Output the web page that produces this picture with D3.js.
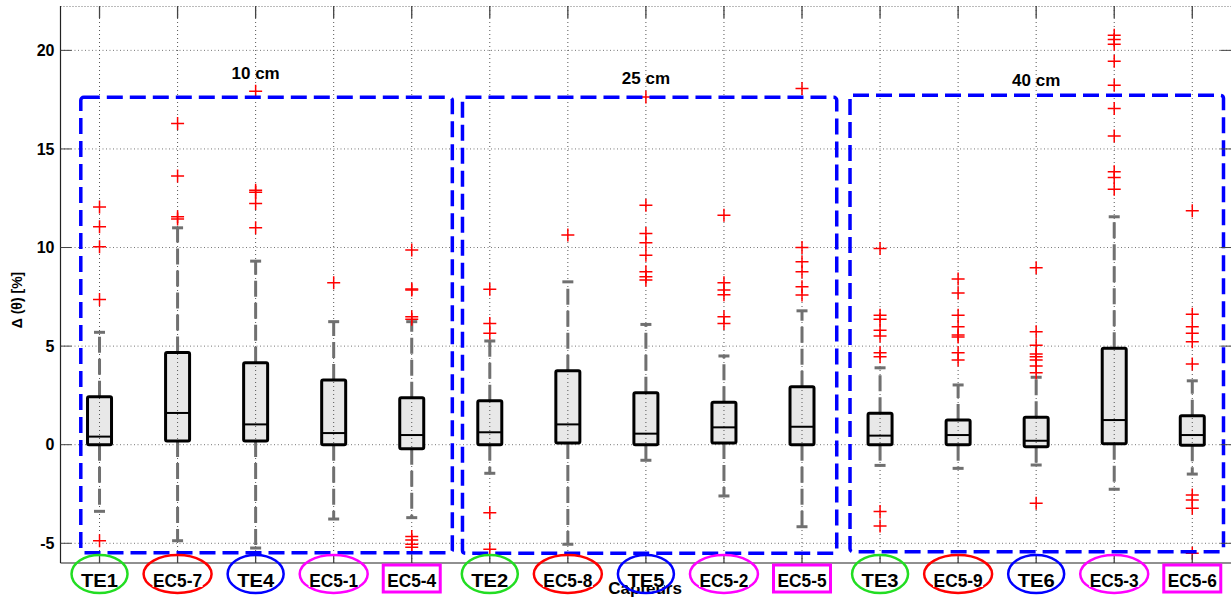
<!DOCTYPE html>
<html><head><meta charset="utf-8">
<script src="https://cdn.jsdelivr.net/npm/d3@7"></script>
<style>
html,body{margin:0;padding:0;background:#fff;}
svg{display:block;font-family:"Liberation Sans",Arial,sans-serif;}
</style></head>
<body>
<svg id="chart" width="1231" height="598"></svg>
<script>
// ---- data ----
const sensors = ["TE1","EC5-7","TE4","EC5-1","EC5-4","TE2","EC5-8","TE5","EC5-2","EC5-5","TE3","EC5-9","TE6","EC5-3","EC5-6"];
const labelShape = ["ellipse","ellipse","ellipse","ellipse","rect","ellipse","ellipse","ellipse","ellipse","rect","ellipse","ellipse","ellipse","ellipse","rect"];
const labelColor = ["#22dd22","#ff0000","#0000ff","#ff00ff","#ff00ff","#22dd22","#ff0000","#0000ff","#ff00ff","#ff00ff","#22dd22","#ff0000","#0000ff","#ff00ff","#ff00ff"];
const q1      = [0.00, 0.19, 0.19, 0.00, -0.20, 0.00, 0.09, 0.00, 0.09, 0.00, 0.00, 0.00, -0.10, 0.05, -0.03];
const medians = [0.41, 1.61, 1.03, 0.59, 0.49, 0.63, 1.03, 0.56, 0.88, 0.91, 0.46, 0.49, 0.20, 1.25, 0.49];
const q3      = [2.43, 4.68, 4.16, 3.28, 2.38, 2.23, 3.75, 2.64, 2.15, 2.94, 1.59, 1.25, 1.39, 4.89, 1.47];
const whiskLo = [-3.38, -4.87, -5.24, -3.77, -3.70, -1.45, -5.05, -0.79, -2.60, -4.16, -1.05, -1.20, -1.03, -2.26, -1.49];
const whiskHi = [5.70, 11.00, 9.31, 6.24, 6.24, 5.26, 8.26, 6.10, 4.50, 6.79, 3.90, 3.03, 3.42, 11.56, 3.24];
const outliers = [
  [12.06, 11.05, 10.04, 7.37, -4.87],
  [16.29, 13.63, 11.56, 11.45],
  [17.93, 12.9, 12.8, 12.23, 11.0],
  [8.21],
  [9.87, 7.9, 7.85, 6.49, 6.36, -4.66, -4.83, -5.05, -5.2],
  [7.88, 6.15, 5.65, -3.45, -5.3],
  [10.63],
  [17.64, 12.15, 10.71, 10.24, 9.61, 8.77, 8.52, 8.35],
  [11.64, 8.21, 7.84, 7.6, 6.49, 6.15],
  [18.06, 10.0, 9.28, 8.77, 8.01, 7.59],
  [9.95, 6.57, 6.36, 5.81, 5.51, 4.66, 4.46, -3.39, -4.12],
  [8.4, 7.7, 6.57, 5.98, 5.56, 5.46, 4.66, 4.29],
  [8.97, 5.73, 5.05, 4.6, 4.46, 4.29, 3.99, 3.65, -2.97],
  [20.77, 20.55, 20.31, 19.45, 18.23, 17.05, 15.66, 13.84, 13.55, 12.96],
  [11.86, 6.62, 5.98, 5.65, 5.22, 4.09, -2.55, -2.80, -3.22, -5.5]
];
const yTicks = [-5, 0, 5, 10, 15, 20];
const groupNames = ["10 cm", "25 cm", "40 cm"];
const groupCenter = [3, 8, 13];
const groupX0 = [0.76, 5.65, 10.615];
const groupX1 = [5.52, 10.445, 15.40];
const groupTop = [17.62, 17.62, 17.72];
const groupBottom = [-5.48, -5.51, -5.43];
const groupTitleY = [18.55, 18.3, 18.2];
const yLabel = "\u0394 (\u03b8) [%]";
const xLabel = "Capteurs";

// ---- scales ----
const svg = d3.select("#chart");
const L = 60.5, R = 1231.3, T = 6, B = 563;
const x = d3.scaleLinear().domain([0.5, 15.5]).range([L, R]);
const y = d3.scaleLinear().domain([-6, 22.25]).range([B, T]);
const idx = d3.range(sensors.length);

// grid
const grid = svg.append("g");
grid.selectAll("line.h").data(yTicks).join("line")
  .attr("x1", L).attr("x2", R).attr("y1", d => y(d)).attr("y2", d => y(d))
  .attr("stroke", "#777").attr("stroke-width", 1).attr("stroke-dasharray", "1,2.5");
// top border dotted
grid.append("line").attr("x1", L).attr("x2", R).attr("y1", T + 0.5).attr("y2", T + 0.5)
  .attr("stroke", "#777").attr("stroke-dasharray", "1,2");

// box fills
const boxW = 24;
svg.append("g").selectAll("rect").data(idx).join("rect")
  .attr("x", i => x(i + 1) - boxW / 2).attr("width", boxW)
  .attr("y", i => y(q3[i])).attr("height", i => y(q1[i]) - y(q3[i]))
  .attr("fill", "#e8e8e8");

// vertical grid
grid.clone ? null : null;
svg.append("g").selectAll("line").data(idx).join("line")
  .attr("x1", i => x(i + 1)).attr("x2", i => x(i + 1)).attr("y1", T).attr("y2", B)
  .attr("stroke", "#555").attr("stroke-width", 1).attr("stroke-dasharray", "1,3");

// whiskers
const wg = svg.append("g").attr("stroke", "#707070").attr("stroke-width", 3);
wg.selectAll("line.up").data(idx).join("line")
  .attr("x1", i => x(i + 1)).attr("x2", i => x(i + 1))
  .attr("y1", i => y(q3[i])).attr("y2", i => y(whiskHi[i]))
  .attr("stroke-dasharray", "16,6");
wg.selectAll("line.lo").data(idx).join("line").attr("class", "lo")
  .attr("x1", i => x(i + 1)).attr("x2", i => x(i + 1))
  .attr("y1", i => y(q1[i])).attr("y2", i => y(whiskLo[i]))
  .attr("stroke-dasharray", "16,6");
const capW = 11;
wg.selectAll("line.ch").data(idx).join("line").attr("class", "ch")
  .attr("x1", i => x(i + 1) - capW / 2).attr("x2", i => x(i + 1) + capW / 2)
  .attr("y1", i => y(whiskHi[i])).attr("y2", i => y(whiskHi[i]));
wg.selectAll("line.cl").data(idx).join("line").attr("class", "cl")
  .attr("x1", i => x(i + 1) - capW / 2).attr("x2", i => x(i + 1) + capW / 2)
  .attr("y1", i => y(whiskLo[i])).attr("y2", i => y(whiskLo[i]));

// box outlines + medians
svg.append("g").selectAll("rect").data(idx).join("rect")
  .attr("x", i => x(i + 1) - boxW / 2).attr("width", boxW)
  .attr("y", i => y(q3[i])).attr("height", i => y(q1[i]) - y(q3[i]))
  .attr("fill", "none").attr("stroke", "#000").attr("stroke-width", 3).attr("rx", 1.5);
svg.append("g").selectAll("line").data(idx).join("line")
  .attr("x1", i => x(i + 1) - boxW / 2).attr("x2", i => x(i + 1) + boxW / 2)
  .attr("y1", i => y(medians[i])).attr("y2", i => y(medians[i]))
  .attr("stroke", "#000").attr("stroke-width", 2);

// outliers
const pts = [];
outliers.forEach((arr, i) => arr.forEach(v => pts.push({i, v})));
const og = svg.append("g").attr("stroke", "#ff0000").attr("stroke-width", 1.5);
og.selectAll("path").data(pts).join("path")
  .attr("d", d => { const cx = x(d.i + 1), cy = y(d.v); return `M${cx - 6.5},${cy}H${cx + 6.5}M${cx},${cy - 6.5}V${cy + 6.5}`; });

// group rectangles
const gg = svg.append("g");
gg.selectAll("rect").data(groupNames).join("rect")
  .attr("x", (d, k) => x(groupX0[k])).attr("width", (d, k) => x(groupX1[k]) - x(groupX0[k]))
  .attr("y", (d, k) => y(groupTop[k])).attr("height", (d, k) => y(groupBottom[k]) - y(groupTop[k]))
  .attr("rx", 3).attr("fill", "none").attr("stroke", "#0000ff").attr("stroke-width", 3.5)
  .attr("stroke-dasharray", "16,7");
gg.selectAll("text").data(groupNames).join("text")
  .attr("x", (d, k) => x(groupCenter[k])).attr("y", (d, k) => y(groupTitleY[k]))
  .attr("text-anchor", "middle").attr("font-weight", "bold").attr("font-size", 17)
  .attr("fill", "#000").text(d => d);

// axes lines and ticks
const ax = svg.append("g");
ax.append("line").attr("x1", L).attr("x2", L).attr("y1", T).attr("y2", B).attr("stroke", "#222").attr("stroke-width", 1.2);
ax.append("line").attr("x1", L).attr("x2", R).attr("y1", B).attr("y2", B).attr("stroke", "#222").attr("stroke-width", 1.2);
ax.selectAll("line.yl").data(yTicks).join("line").attr("class", "yl")
  .attr("x1", L).attr("x2", L + 11).attr("y1", d => y(d)).attr("y2", d => y(d)).attr("stroke", "#444");
ax.selectAll("line.yr").data(yTicks).join("line").attr("class", "yr")
  .attr("x1", R - 11).attr("x2", R).attr("y1", d => y(d)).attr("y2", d => y(d)).attr("stroke", "#444");
ax.selectAll("line.xt").data(idx).join("line").attr("class", "xt")
  .attr("x1", i => x(i + 1)).attr("x2", i => x(i + 1)).attr("y1", T).attr("y2", T + 12).attr("stroke", "#444").attr("stroke-width", 1.3);
ax.selectAll("line.xb").data(idx).join("line").attr("class", "xb")
  .attr("x1", i => x(i + 1)).attr("x2", i => x(i + 1)).attr("y1", B - 8).attr("y2", B).attr("stroke", "#444").attr("stroke-width", 1.3);
ax.selectAll("text.yt").data(yTicks).join("text").attr("class", "yt")
  .attr("x", L - 6).attr("y", d => y(d)).attr("dy", "0.36em")
  .attr("text-anchor", "end").attr("font-weight", "bold").attr("font-size", 16).text(d => d);

// y label
svg.append("text").attr("transform", `translate(22,${300}) rotate(-90)`)
  .attr("text-anchor", "middle").attr("font-weight", "bold").attr("font-size", 14).text(yLabel);

// x label
svg.append("text").attr("x", 645).attr("y", 594).attr("text-anchor", "middle")
  .attr("font-weight", "bold").attr("font-size", 17).text(xLabel);

// sensor labels
const lg = svg.append("g");
const lab = lg.selectAll("g").data(idx).join("g").attr("transform", i => `translate(${x(i + 1)},574)`);
lab.each(function(i) {
  const g = d3.select(this);
  const isEC = sensors[i].startsWith("EC");
  if (labelShape[i] === "ellipse") {
    g.append("ellipse").attr("rx", isEC ? 34 : 28).attr("ry", 19)
      .attr("fill", "none").attr("stroke", labelColor[i]).attr("stroke-width", 2.5);
  } else {
    g.append("rect").attr("x", -28.5).attr("y", -9).attr("width", 57).attr("height", 27)
      .attr("fill", "#fff").attr("stroke", labelColor[i]).attr("stroke-width", 3);
  }
  const tw = isEC ? 50 : 36;
  g.append("rect").attr("x", -tw / 2).attr("y", -4).attr("width", tw).attr("height", 17).attr("fill", "#fff");
  g.append("text").attr("y", 12.5).attr("text-anchor", "middle").attr("font-weight", "bold")
    .attr("font-size", 19).attr("textLength", isEC ? 49 : 37).attr("lengthAdjust", "spacingAndGlyphs")
    .text(sensors[i]);
});
</script>
</body></html>
